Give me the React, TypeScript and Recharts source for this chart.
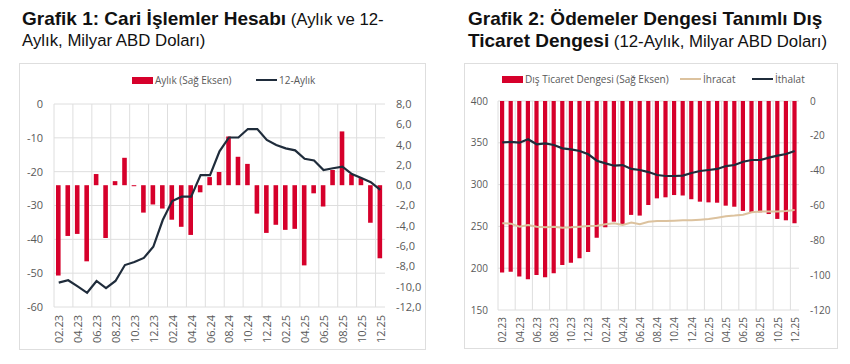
import React from 'react';
import { ComposedChart, Bar, Line, XAxis, YAxis, CartesianGrid } from 'recharts';

// 02.23 - 12.25
const months = [
    '02.23', '03.23', '04.23', '05.23', '06.23', '07.23', '08.23', '09.23', '10.23', '11.23', '12.23',
    '01.24', '02.24', '03.24', '04.24', '05.24', '06.24', '07.24', '08.24', '09.24', '10.24', '11.24', '12.24',
    '01.25', '02.25', '03.25', '04.25', '05.25', '06.25', '07.25', '08.25', '09.25', '10.25', '11.25', '12.25',
];

// Grafik 1
const cariAylik = [
    -8.9, -5.0, -4.8, -7.5, 1.1, -5.2, 0.4, 2.7, -0.1, -2.7, -1.9, -2.3, -3.4, -4.1, -4.9, -0.7, 0.8, 1.3,
    4.8, 2.8, 2.1, -2.8, -4.7, -3.9, -4.4, -4.3, -7.9, -0.8, -2.1, 1.5, 5.3, 1.1, 0.7, -3.7, -7.2,
];
const cari12Aylik = [
    -52.8, -52.1, -53.9, -55.8, -52.3, -54.4, -52.3, -47.6, -46.7, -45.5, -42.2, -34.3, -28.7, -27.4, -27.4,
    -21.0, -21.0, -14.0, -9.9, -9.9, -7.4, -7.4, -10.6, -12.1, -13.1, -13.7, -16.2, -16.7, -19.5, -19.0,
    -18.5, -20.7, -21.9, -23.1, -25.4,
];
const leftTicks1 = [0, -10, -20, -30, -40, -50, -60];
const rightTicks1 = [8, 6, 4, 2, 0, -2, -4, -6, -8, -10, -12];

// Grafik 2
const disTicaret = [
    -98.4, -98.0, -100.8, -102.4, -99.9, -101.2, -98.9, -94.1, -92.8, -90.3, -86.7, -78.5, -72.5, -69.3,
    -70.6, -65.4, -65.8, -59.7, -55.9, -55.3, -54.0, -54.3, -56.4, -57.8, -58.2, -58.4, -60.1, -60.7,
    -63.1, -63.9, -63.9, -64.9, -67.7, -68.5, -70.2,
];
const ihracat = [
    253.7, 253.3, 249.7, 251.7, 249.7, 248.9, 249.7, 248.5, 248.9, 249.7, 250.5, 250.9, 252.5, 253.7,
    251.7, 254.5, 252.5, 255.6, 256.5, 256.5, 256.8, 257.3, 257.3, 258.0, 258.9, 260.4, 262.1, 262.9,
    264.0, 266.9, 267.7, 267.7, 267.7, 268.4, 269.6,
];
const ithalat = [
    350.6, 351.0, 350.1, 354.2, 348.2, 349.4, 347.4, 343.4, 342.2, 340.2, 336.2, 328.6, 325.4, 322.6,
    323.4, 318.7, 317.5, 315.0, 311.5, 310.3, 310.3, 310.7, 313.9, 316.3, 317.5, 318.7, 322.2, 323.4,
    327.4, 329.4, 329.4, 332.2, 334.6, 336.6, 340.2,
];
const leftTicks2 = [400, 350, 300, 250, 200, 150];
const rightTicks2 = [0, -20, -40, -60, -80, -100, -120];

const data1 = months.map((m, i) => ({ month: m, aylik: cariAylik[i], yillik: cari12Aylik[i] }));
const data2 = months.map((m, i) => ({ month: m, denge: disTicaret[i], ihracat: ihracat[i], ithalat: ithalat[i] }));

const RED = '#d6002b';
const NAVY = '#1f2c3b';
const TAN = '#dcc29e';
const GRID = '#dedede';
const TEXT = '#595959';
const FONT = '"Open Sans", sans-serif';
const TITLE_FONT = '"Liberation Sans", Arial, sans-serif';

// vertical grid lines sit on every 2nd category boundary (like Excel)
const boundaryLines = (left: number, width: number) =>
    months.filter((_, i) => i % 2 === 0).map((_, k) => left + (2 * k * width) / months.length);

const MonthTick = (props: any) => {
    const { x, y, payload, fontSize } = props;
    return (
        <text
            transform={`translate(${x},${y}) rotate(-90)`}
            textAnchor="end"
            dominantBaseline="central"
            fontSize={fontSize}
            fill={TEXT}
            fontFamily={FONT}
        >
            {payload.value}
        </text>
    );
};

const fmtComma = (v: number) => v.toFixed(1).replace('.', ',');

const LegendItem = ({ kind, color, label, left }: { kind: 'bar' | 'line'; color: string; label: string; left: number }) => (
    <span style={{ position: 'absolute', left, top: 0, display: 'inline-flex', alignItems: 'center', whiteSpace: 'nowrap' }}>
        <span
            style={{
                display: 'inline-block',
                width: 21,
                height: kind === 'bar' ? 7 : 2,
                background: color,
                marginRight: 2,
            }}
        />
        <span>{label}</span>
    </span>
);

export default function App() {
    return (
        <div style={{ position: 'absolute', left: 0, top: 0, width: 850, height: 364, background: '#fff', overflow: 'hidden' }}>
            {/* Titles */}
            <div style={{ position: 'absolute', left: 22, top: 8, fontFamily: TITLE_FONT, color: '#111', lineHeight: '21px', whiteSpace: 'nowrap' }}>
                <span style={{ fontWeight: 700, fontSize: 19 }}>Grafik 1: Cari İşlemler Hesabı</span>
                <span style={{ fontSize: 16.8 }}> (Aylık ve 12-</span>
                <br />
                <span style={{ fontSize: 16.8 }}>Aylık, Milyar ABD Doları)</span>
            </div>
            <div style={{ position: 'absolute', left: 468, top: 8, fontFamily: TITLE_FONT, color: '#111', lineHeight: '21px', whiteSpace: 'nowrap' }}>
                <span style={{ fontWeight: 700, fontSize: 19 }}>Grafik 2: Ödemeler Dengesi Tanımlı Dış</span>
                <br />
                <span style={{ fontWeight: 700, fontSize: 19 }}>Ticaret Dengesi</span>
                <span style={{ fontSize: 16.8 }}> (12-Aylık, Milyar ABD Doları)</span>
            </div>

            {/* Chart frames */}
            <div style={{ position: 'absolute', left: 19, top: 63, width: 407, height: 287, border: `1px solid ${GRID}`, boxSizing: 'border-box' }} />
            <div style={{ position: 'absolute', left: 464, top: 63, width: 374, height: 286, border: `1px solid ${GRID}`, boxSizing: 'border-box' }} />

            {/* Legends */}
            <div style={{ position: 'absolute', left: 0, top: 73, width: 425, fontFamily: FONT, fontSize: 10, color: TEXT }}>
                <LegendItem kind="bar" color={RED} label="Aylık (Sağ Eksen)" left={132} />
                <LegendItem kind="line" color={NAVY} label="12-Aylık" left={256} />
            </div>
            <div style={{ position: 'absolute', left: 0, top: 72, width: 850, fontFamily: FONT, fontSize: 10, color: TEXT }}>
                <LegendItem kind="bar" color={RED} label="Dış Ticaret Dengesi (Sağ Eksen)" left={502} />
                <LegendItem kind="line" color={TAN} label="İhracat" left={680} />
                <LegendItem kind="line" color={NAVY} label="İthalat" left={752} />
            </div>

            {/* Grafik 1 */}
            <div style={{ position: 'absolute', left: 0, top: 0 }}>
                <ComposedChart width={425} height={364} data={data1} margin={{ top: 104, right: 5, bottom: 12, left: 10 }} barCategoryGap={0}>
                    <CartesianGrid yAxisId="left" stroke={GRID} verticalPoints={boundaryLines(54, 331)} />
                    <XAxis dataKey="month" interval={1} tickLine={false} axisLine={false} tickSize={0} tickMargin={8} height={45}
                        tick={(p: any) => <MonthTick {...p} fontSize={11} />} />
                    <YAxis yAxisId="left" domain={[-60, 0]} ticks={leftTicks1} width={44} tickLine={false} axisLine={false}
                        tickSize={0} tickMargin={11} tick={{ fill: TEXT, fontSize: 11, fontFamily: FONT }} />
                    <YAxis yAxisId="right" orientation="right" domain={[-12, 8]} ticks={rightTicks1} width={35} tickLine={false}
                        axisLine={false} tickSize={0} tickMargin={11} tickFormatter={fmtComma}
                        tick={{ fill: TEXT, fontSize: 11, fontFamily: FONT, textAnchor: 'start' }} />
                    <Bar yAxisId="right" dataKey="aylik" fill={RED} barSize={4.6} isAnimationActive={false} />
                    <Line yAxisId="left" dataKey="yillik" stroke={NAVY} strokeWidth={2.2} dot={false} type="linear" isAnimationActive={false} />
                </ComposedChart>
            </div>

            {/* Grafik 2 */}
            <div style={{ position: 'absolute', left: 425, top: 0 }}>
                <ComposedChart width={425} height={364} data={data2} margin={{ top: 101, right: 16, bottom: 14, left: 33 }} barCategoryGap={0}>
                    <CartesianGrid yAxisId="left" stroke={GRID} verticalPoints={boundaryLines(73, 301)} />
                    <XAxis dataKey="month" interval={1} tickLine={false} axisLine={false} tickSize={0} tickMargin={7} height={40}
                        tick={(p: any) => <MonthTick {...p} fontSize={10} />} />
                    <YAxis yAxisId="left" domain={[150, 400]} ticks={leftTicks2} width={40} tickLine={false} axisLine={false}
                        tickSize={0} tickMargin={10} tick={{ fill: TEXT, fontSize: 10, fontFamily: FONT }} />
                    <YAxis yAxisId="right" orientation="right" domain={[-120, 0]} ticks={rightTicks2} width={35} tickLine={false}
                        axisLine={false} tickSize={0} tickMargin={11} tick={{ fill: TEXT, fontSize: 10, fontFamily: FONT, textAnchor: 'start' }} />
                    <Bar yAxisId="right" dataKey="denge" fill={RED} barSize={4.2} isAnimationActive={false} />
                    <Line yAxisId="left" dataKey="ihracat" stroke={TAN} strokeWidth={2} dot={false} type="linear" isAnimationActive={false} />
                    <Line yAxisId="left" dataKey="ithalat" stroke={NAVY} strokeWidth={2.2} dot={false} type="linear" isAnimationActive={false} />
                </ComposedChart>
            </div>
        </div>
    );
}
